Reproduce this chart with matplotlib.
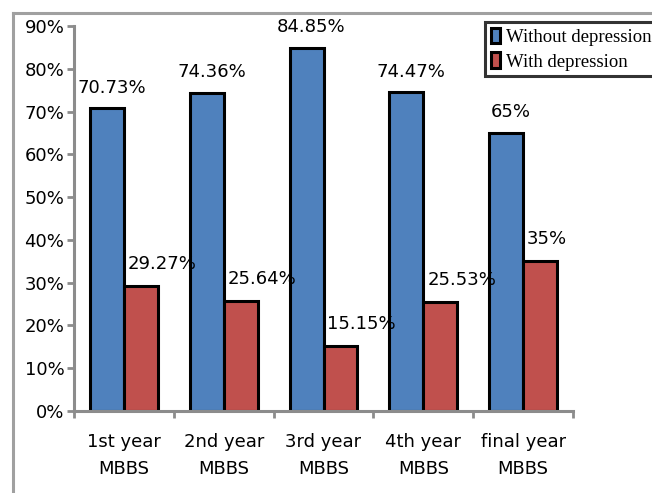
import matplotlib
matplotlib.use("Agg")
import matplotlib.pyplot as plt
from matplotlib.lines import Line2D
import numpy as np

categories = ["1st year\nMBBS", "2nd year\nMBBS", "3rd year\nMBBS", "4th year\nMBBS", "final year\nMBBS"]
without_dep = [70.73, 74.36, 84.85, 74.47, 65.0]
with_dep = [29.27, 25.64, 15.15, 25.53, 35.0]
without_lbl = ["70.73%", "74.36%", "84.85%", "74.47%", "65%"]
with_lbl = ["29.27%", "25.64%", "15.15%", "25.53%", "35%"]

BLUE = "#4F81BD"
RED = "#C0504D"
GRAY = "#8c8c8c"
FS = 13

fig = plt.figure(figsize=(6.52, 4.93), dpi=100)
ax = fig.add_axes([74 / 652, 1 - 411 / 493, (573 - 74) / 652, (411 - 26) / 493])

x = np.arange(len(categories))
w = 0.34
ax.bar(x - w / 2, without_dep, w, color=BLUE, edgecolor="black", linewidth=2.2, label="Without depression")
ax.bar(x + w / 2, with_dep, w, color=RED, edgecolor="black", linewidth=2.2, label="With depression")

for i in range(len(x)):
    ax.annotate(without_lbl[i], (x[i] - w / 2 + 0.05, without_dep[i]), xytext=(0, 15),
                textcoords="offset points", ha="center", va="center", fontsize=FS)
    ax.annotate(with_lbl[i], (x[i] + 0.04, with_dep[i]), xytext=(0, 16),
                textcoords="offset points", ha="left", va="center", fontsize=FS)

ax.set_xlim(-0.5, len(x) - 0.5)
ax.set_ylim(0, 90)
ax.set_yticks(np.arange(0, 91, 10))
ax.set_yticklabels([f"{v}%" for v in range(0, 91, 10)], fontsize=FS)
ax.set_xticks(x)
ax.set_xticklabels(categories, fontsize=FS, linespacing=1.6)
ax.set_xticks(np.arange(-0.5, len(x)), minor=True)
ax.tick_params(axis="x", which="major", length=0, pad=16)
ax.tick_params(axis="x", which="minor", length=5, width=2, color=GRAY, direction="out")
ax.tick_params(axis="y", length=5, width=2, color=GRAY, direction="out", pad=2)

for s in ["top", "right"]:
    ax.spines[s].set_visible(False)
for s in ["left", "bottom"]:
    ax.spines[s].set_color(GRAY)
    ax.spines[s].set_linewidth(2.2)

# outer gray frame
fig.add_artist(Line2D([13 / 652, 1], [1 - 13 / 493, 1 - 13 / 493], color="#a0a0a0", lw=2.2))
fig.add_artist(Line2D([13 / 652, 13 / 652], [0, 1 - 13 / 493], color="#a0a0a0", lw=2.2))

leg = fig.legend(loc="upper left", bbox_to_anchor=(485 / 652, 1 - 22 / 493),
                 prop={"family": "Liberation Serif", "size": 13.5},
                 frameon=True, fancybox=False, shadow=False, handlelength=0.5, handleheight=0.9,
                 handletextpad=0.3, borderpad=0.3, labelspacing=0.35, borderaxespad=0)
leg.get_frame().set_edgecolor("black")
leg.get_frame().set_linewidth(2.2)

fig.savefig("out.png", dpi=100)
